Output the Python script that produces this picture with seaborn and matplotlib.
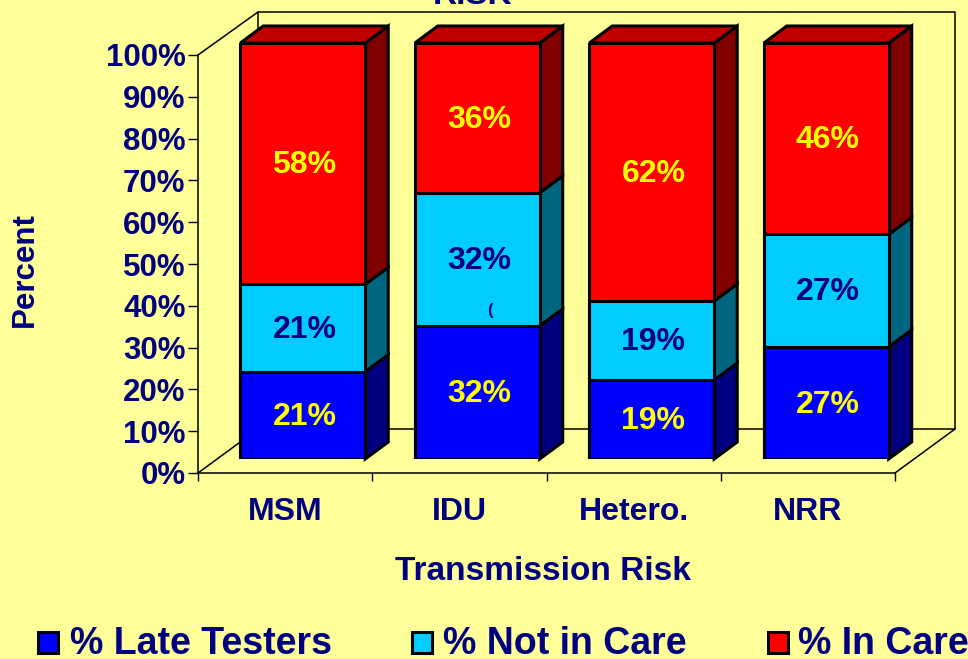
import numpy as np
import pandas as pd
import matplotlib
matplotlib.use("Agg")
import matplotlib.pyplot as plt
from matplotlib.patches import Polygon, Rectangle
import seaborn as sns

categories = ["MSM", "IDU", "Hetero.", "NRR"]
late_testers = [21, 32, 19, 27]
not_in_care = [21, 32, 19, 27]
in_care = [58, 36, 62, 46]
y_ticks = [0, 10, 20, 30, 40, 50, 60, 70, 80, 90, 100]

W, H = 968, 659
BG = "#FFFF99"
NAVY = "#000080"
YELLOW = "#FFFF00"
DX, DY = 23, 17  # bar depth in pixels

sns.set_theme(style="white", rc={"figure.facecolor": BG, "axes.facecolor": "none"})
plt.rcParams["font.family"] = ["Liberation Sans", "DejaVu Sans"]
plt.rcParams["font.weight"] = "bold"

fig = plt.figure(figsize=(W / 100, H / 100), dpi=100, facecolor=BG)


def box(left, top, right, bottom):
    return [left / W, 1 - bottom / H, (right - left) / W, (bottom - top) / H]


# overlay in pixel coordinates for the walls, floor and loose text
bg = fig.add_axes([0, 0, 1, 1], zorder=0)
bg.set_xlim(0, W)
bg.set_ylim(H, 0)
bg.axis("off")
bg.plot([198, 258, 955, 895], [473, 429, 429, 473], color="black", lw=1.1)
bg.plot([198, 258, 258], [55, 12, 429], color="black", lw=1.1)
bg.plot([258, 955, 955], [12, 12, 429], color="black", lw=1.1)

# axis with the tick marks, shifted from the bars as in a 3D chart
ax = fig.add_axes(box(198, 55, 895, 473), zorder=1)
ax.set_xlim(0, 4)
ax.set_ylim(0, 100)
ax.set_xticks([0, 1, 2, 3, 4])
ax.set_xticklabels([])
ax.set_xticks([0.5, 1.5, 2.5, 3.5], labels=categories, minor=True)
ax.set_yticks(y_ticks, labels=[f"{t}%" for t in y_ticks])
ax.tick_params(axis="x", which="major", length=6, width=1, color="black", bottom=True)
ax.tick_params(axis="x", which="minor", length=0, pad=17, labelsize=23, labelcolor=NAVY)
ax.tick_params(axis="y", length=7, width=1, color="black", left=True, pad=2,
               labelsize=22.5, labelcolor=NAVY)
for s in ["top", "right"]:
    ax.spines[s].set_visible(False)
for s in ["left", "bottom"]:
    ax.spines[s].set_color("black")
    ax.spines[s].set_linewidth(1.1)
ax.patch.set_alpha(0)

# front plane of the bars
front = fig.add_axes(box(215.5, 43, 913.5, 459), zorder=2)
front.patch.set_alpha(0)
front.axis("off")

df = pd.DataFrame({"cat": categories, "late": late_testers,
                   "notcare": not_in_care, "care": in_care})
df["c1"] = df["late"]
df["c2"] = df["late"] + df["notcare"]
df["c3"] = df["c2"] + df["care"]

faces = [("c3", "#FF0000"), ("c2", "#00CCFF"), ("c1", "#0000FF")]
for col, colour in faces:
    sns.barplot(data=df, x="cat", y=col, color=colour, saturation=1, width=0.716,
                edgecolor="black", linewidth=2.2, ax=front, order=categories)
front.set_xlim(-0.5, 3.5)
front.set_ylim(0, 100)
front.axis("off")

sides = {"#0000FF": "#000080", "#00CCFF": "#006680", "#FF0000": "#800000"}
to_px = lambda xy: bg.transData.inverted().transform(front.transData.transform(xy))
for i, cat in enumerate(categories):
    x0 = i - 0.358
    x1 = i + 0.358
    lows = [0, df["c1"][i], df["c2"][i]]
    highs = [df["c1"][i], df["c2"][i], df["c3"][i]]
    for lo, hi, colour in zip(lows, highs, ["#0000FF", "#00CCFF", "#FF0000"]):
        (xr, ylo), (_, yhi) = to_px((x1, lo)), to_px((x1, hi))
        bg.add_patch(Polygon([(xr, ylo), (xr + DX, ylo - DY), (xr + DX, yhi - DY), (xr, yhi)],
                             fc=sides[colour], ec="black", lw=2.2, zorder=3))
    (xl, yt), (xr, _) = to_px((x0, 100)), to_px((x1, 100))
    bg.add_patch(Polygon([(xl, yt), (xl + DX, yt - DY), (xr + DX, yt - DY), (xr, yt)],
                         fc="#C00000", ec="black", lw=2.2, zorder=3))

# value labels, blue on the cyan segment
for i in range(len(categories)):
    front.text(i + 0.01, df["c1"][i] / 2 - 0.4, f"{late_testers[i]}%", color=YELLOW, fontsize=23,
               ha="center", va="center", zorder=10)
    front.text(i + 0.01, df["c1"][i] + not_in_care[i] / 2 - 0.4, f"{not_in_care[i]}%", color=NAVY,
               fontsize=23, ha="center", va="center", zorder=10)
    front.text(i + 0.01, df["c2"][i] + in_care[i] / 2 - 0.4, f"{in_care[i]}%", color=YELLOW, fontsize=23,
               ha="center", va="center", zorder=10)
# stray mark left in the cyan segment of IDU
front.text(490, 310, "(", color=NAVY, fontsize=12, ha="center", va="center", zorder=10,
           transform=bg.transData)

bg.text(25, 270, "Percent", color=NAVY, fontsize=22.5, rotation=90, ha="center", va="center")
bg.text(543, 571, "Transmission Risk", color=NAVY, fontsize=24, ha="center", va="center")
bg.text(473, -5, "RISK", color=NAVY, fontsize=24, ha="center", va="center", clip_on=False)

# legend
for sx, tx, label, colour in [(37, 70, "% Late Testers", "#0000FF"),
                              (411, 443, "% Not in Care", "#00CCFF"),
                              (767, 798, "% In Care", "#FF0000")]:
    bg.add_patch(Rectangle((sx + 1, 632), 20, 21, fc=colour, ec="black", lw=2.2))
    bg.text(tx, 654, label, color=NAVY, fontsize=27, ha="left", va="baseline", clip_on=False)

fig.savefig("out.png", dpi=100, facecolor=BG)
